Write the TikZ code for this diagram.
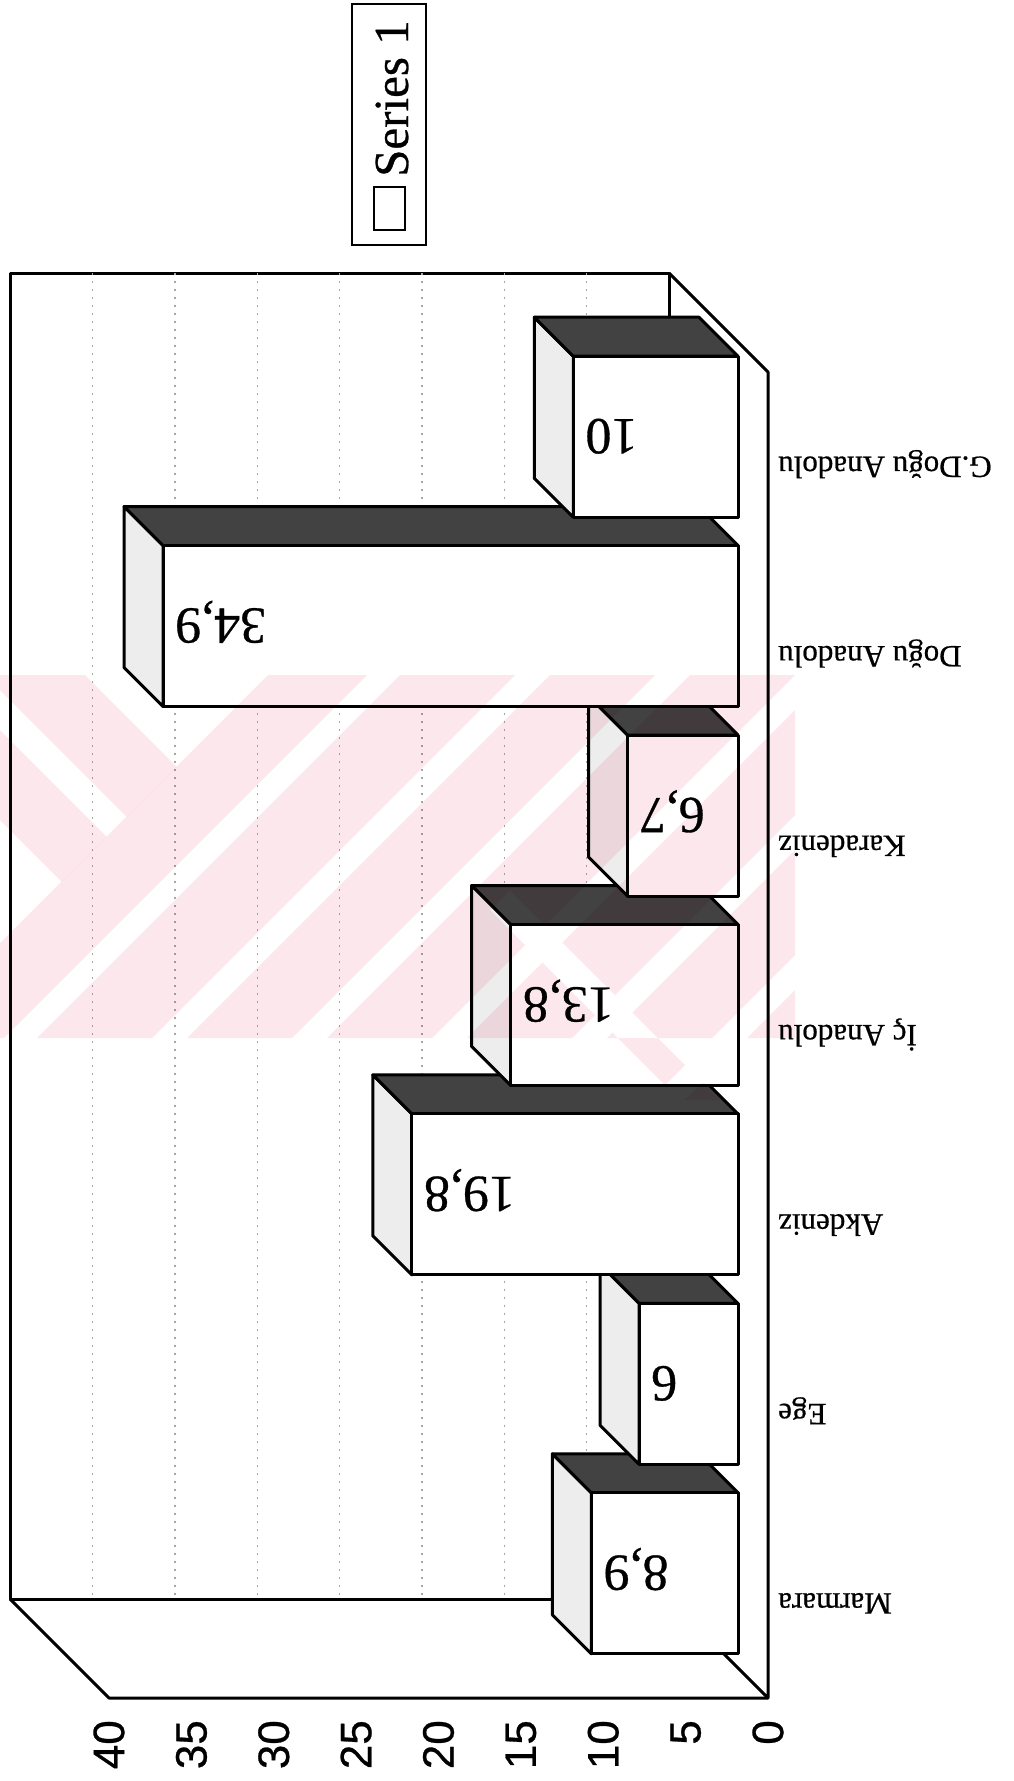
\documentclass[tikz,border=0pt]{standalone}
\usepackage{fontspec}
\setmainfont{Liberation Serif}[FakeBold=0.6]
\setsansfont{Liberation Sans}[FakeBold=0.6]
\definecolor{wmarkpink}{RGB}{252,231,236}

\newcommand{\regionbar}[4]{%
  \path[barside] ({738-16.475*#1},{#2-80.5}) -- ++(-39,-39) -- ++(0,161) -- ++(39,39) -- cycle;
  \path[bartop] ({738-16.475*#1},{#2-80.5}) -- (738,{#2-80.5}) -- ++(-39,-39) -- ({699-16.475*#1},{#2-119.5}) -- cycle;
  \path[barfront] ({738-16.475*#1},{#2-80.5}) rectangle (738,{#2+80.5});
  \path ({750-16.475*#1},#2) node[vallabel] (#4) {#3};
}

\begin{document}
\begin{tikzpicture}[x=1pt,y=-1pt,
  wall/.style={line width=3pt, line join=round},
  gridline/.style={draw=gray!70, line width=1.2pt, dash pattern=on 2pt off 6pt},
  barfront/.style={draw, fill=white, line width=3pt, line join=round},
  bartop/.style={draw, fill=black!74, line width=3pt, line join=round},
  barside/.style={draw, fill=black!7, line width=3pt, line join=round},
  vallabel/.style={rotate=180, anchor=east, inner sep=0pt, text height=35pt, text depth=0pt, font=\fontsize{52}{62}\selectfont},
  catlabel/.style={rotate=180, anchor=east, inner sep=0pt, text height=20pt, text depth=0pt, font=\fontsize{31}{37}\selectfont},
  ticklabel/.style={rotate=90, anchor=east, inner sep=0pt, font=\sffamily\fontsize{44}{52}\selectfont},
  wmark/.style={fill=wmarkpink}]
  \useasboundingbox (0,0) rectangle (1013,1781);

  \coordinate (backtl) at (10,273);
  \coordinate (backtr) at (669,273);
  \coordinate (backbl) at (10,1599);
  \coordinate (backbr) at (669,1599);
  \coordinate (fronttr) at (768,372);
  \coordinate (frontbl) at (109,1698);
  \coordinate (frontbr) at (768,1698);

  \draw[wall] (backbl) -- (backtl) -- (backtr) -- (backbr) -- cycle;
  \draw[wall] (backtr) -- (fronttr) -- (frontbr) -- (backbr);
  \draw[wall] (backbl) -- (frontbl) -- (frontbr);

  \draw[gridline] (586.6,273) -- (586.6,1599);
  \draw[gridline] (504.3,273) -- (504.3,1599);
  \draw[gridline] (421.9,273) -- (421.9,1599);
  \draw[gridline] (339.6,273) -- (339.6,1599);
  \draw[gridline] (257.1,273) -- (257.1,1599);
  \draw[gridline] (174.9,273) -- (174.9,1599);
  \draw[gridline] (92.5,273) -- (92.5,1599);

  \regionbar{8.9}{1573.3}{8,9}{marmaraval}
  \regionbar{6}{1383.9}{6}{egeval}
  \regionbar{19.8}{1194.4}{19,8}{akdenizval}
  \regionbar{13.8}{1005.0}{13,8}{icval}
  \regionbar{6.7}{815.6}{6,7}{karadenizval}
  \regionbar{34.9}{626.1}{34,9}{doguval}
  \regionbar{10}{436.7}{10}{gdoguval}

  \path (778,466.7) node[catlabel] (gdogu) {G.Doğu Anadolu};
  \path (778,656.1) node[catlabel] (dogu) {Doğu Anadolu};
  \path (778,845.6) node[catlabel] (karadeniz) {Karadeniz};
  \path (778,1035.0) node[catlabel] (ic) {İç Anadolu};
  \path (778,1224.4) node[catlabel] (akdeniz) {Akdeniz};
  \path (778,1413.9) node[catlabel] (ege) {Ege};
  \path (778,1603.3) node[catlabel] (marmara) {Marmara};

  \path (768,1720) node[ticklabel] (tick0) {0};
  \path (685.6,1720) node[ticklabel] (tick5) {5};
  \path (603.3,1720) node[ticklabel] (tick10) {10};
  \path (520.9,1720) node[ticklabel] (tick15) {15};
  \path (438.5,1720) node[ticklabel] (tick20) {20};
  \path (356.1,1720) node[ticklabel] (tick25) {25};
  \path (273.8,1720) node[ticklabel] (tick30) {30};
  \path (191.4,1720) node[ticklabel] (tick35) {35};
  \path (109,1720) node[ticklabel] (tick40) {40};

  \draw[line width=2.4pt] (352,4) rectangle (426,245);
  \draw[line width=1.6pt] (374,187) rectangle (405,230);
  \path (408,177) node[rotate=90, anchor=base west, inner sep=0pt, font=\fontsize{49}{58}\selectfont] (series) {Series 1};

  \begin{scope}[even odd rule, blend mode=multiply]
    \clip (0,675) rectangle (795,1038) (490,910) -- (510,890) -- (720,1100) -- (680,1100) -- cycle;
    \fill[wmark] (61.5,881.5) -- (106.5,836.5) -- (-200,530) -- (-200,620) -- cycle;
    \fill[wmark] (126.5,816.5) -- (176.5,766.5) -- (-200,390) -- (-200,490) -- cycle;
    \fill[wmark] (343,600) -- (442,600) -- (-58,1100) -- (-157,1100) -- cycle;
    \fill[wmark] (475,600) -- (590,600) -- (90,1100) -- (-25,1100) -- cycle;
    \fill[wmark] (625,600) -- (730,600) -- (230,1100) -- (125,1100) -- cycle;
    \fill[wmark] (765,600) -- (870,600) -- (370,1100) -- (265,1100) -- cycle;
    \fill[wmark] (905,600) -- (1010,600) -- (510,1100) -- (405,1100) -- cycle;
    \fill[wmark] (1045,600) -- (1150,600) -- (650,1100) -- (545,1100) -- cycle;
    \fill[wmark] (1185,600) -- (1290,600) -- (790,1100) -- (685,1100) -- cycle;
  \end{scope}
\end{tikzpicture}
\end{document}
